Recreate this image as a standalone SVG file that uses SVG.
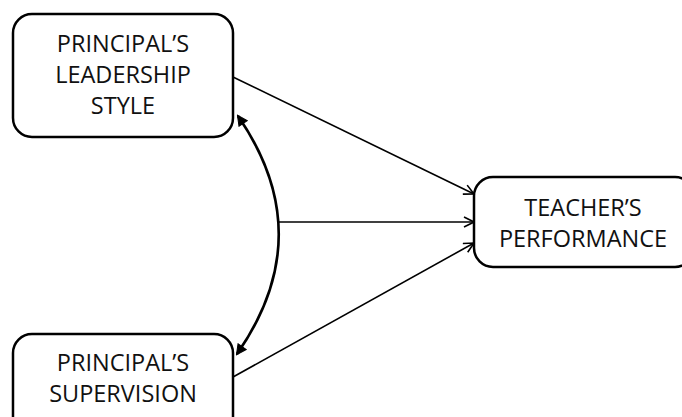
<svg xmlns="http://www.w3.org/2000/svg" width="682" height="417" viewBox="0 0 682 417">
<style>
.box{fill:#fff;stroke:#000;stroke-width:2.5}
.lbl{font-family:"Open Sans","Noto Sans",sans-serif;font-size:23.5px;fill:#111;text-anchor:middle}
.ln{fill:none;stroke:#000;stroke-width:1.6}
.cv{fill:none;stroke:#000;stroke-width:2.6}
</style>
<defs>
<marker id="ah" viewBox="0 0 12 12" refX="11" refY="6" markerWidth="12" markerHeight="12" markerUnits="userSpaceOnUse" orient="auto-start-reverse">
<path d="M1,1 L11,6 L1,11" fill="none" stroke="#000" stroke-width="1.6"/>
</marker>
<marker id="ah2" viewBox="0 0 12 12" refX="10" refY="6" markerWidth="12" markerHeight="12" markerUnits="userSpaceOnUse" orient="auto-start-reverse">
<path d="M1,1 L11,6 L1,11 Z" fill="#000" stroke="#000" stroke-width="1"/>
</marker>
</defs>
<rect width="682" height="417" fill="#fff"/>
<g id="connectors">
<line class="ln" x1="233" y1="77" x2="474" y2="194" marker-end="url(#ah)"/>
<line class="ln" x1="277" y1="222" x2="474" y2="222" marker-end="url(#ah)"/>
<line class="ln" x1="233" y1="377" x2="474" y2="243" marker-end="url(#ah)"/>
<path class="cv" d="M238,116 Q320,235 237,354" marker-start="url(#ah2)" marker-end="url(#ah2)"/>
</g>
<g id="leadership">
<rect class="box" x="13" y="14" width="220" height="123" rx="19"/>
<text class="lbl" x="123" y="52">PRINCIPAL’S</text>
<text class="lbl" x="123" y="83">LEADERSHIP</text>
<text class="lbl" x="123" y="114">STYLE</text>
</g>
<g id="supervision">
<rect class="box" x="13" y="334" width="220" height="110" rx="19"/>
<text class="lbl" x="123" y="371">PRINCIPAL’S</text>
<text class="lbl" x="123" y="402">SUPERVISION</text>
</g>
<g id="performance">
<rect class="box" x="474" y="177" width="220" height="90" rx="19"/>
<text class="lbl" x="583" y="216">TEACHER’S</text>
<text class="lbl" x="583" y="247">PERFORMANCE</text>
</g>
</svg>
